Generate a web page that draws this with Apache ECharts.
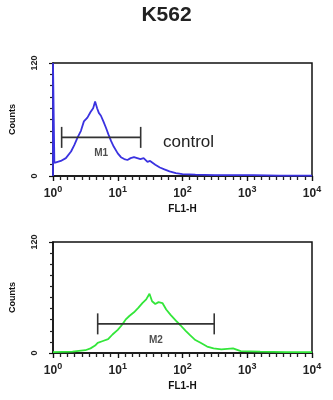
<!DOCTYPE html>
<html><head><meta charset="utf-8">
<script src="https://cdn.jsdelivr.net/npm/echarts@6/dist/echarts.min.js"></script>
<style>html,body{margin:0;padding:0;background:#fff}#c{width:333px;height:400px}</style>
</head><body><div id="c"></div>
<script>
const chartTitle = 'K562';
const xAxisName = 'FL1-H';
const yAxisName = 'Counts';
const xTickBase = '10';
const xTickExponents = ['0', '1', '2', '3', '4'];
const yTickLabels = ['0', '120'];

// control histogram (blue)
const controlX = [1, 1, 1.05, 1.32, 1.58, 1.9, 2.14, 2.4, 2.7, 3.0, 3.4, 3.8, 4.17, 4.47, 4.8, 5.1, 5.5, 6.0, 6.6, 7.2, 7.9, 8.7, 10, 11.2, 12.6, 14.1, 15.8, 17.8, 20, 22.4, 25.1, 28.8, 31.6, 38, 44.7, 52.5, 63, 79, 100, 158, 316, 631, 1259, 3162, 10000];
const controlY = [0, 120, 14, 16, 19, 26, 33, 41, 48, 58, 62, 68, 72, 79, 72, 67, 64, 58, 51, 44, 37, 31, 24, 20, 18, 17, 19, 20, 19, 18, 19, 15, 16, 12, 9, 7, 5, 3, 2, 1.5, 1, 1, 1, 0.5, 0.5];

// sample histogram (green)
const sampleX = [1, 2, 3.16, 3.8, 4.47, 4.9, 5.9, 7.1, 8.3, 10, 11.5, 13.2, 15.1, 17.8, 20.9, 24, 27.5, 30.9, 33.9, 38, 42.7, 49, 56, 66, 79, 93, 112, 132, 158, 190, 240, 302, 398, 603, 794, 1585, 3981, 10000];
const sampleY = [1, 1.5, 3, 5, 8, 11, 13, 15, 20, 25, 30, 36, 40, 44, 49, 54, 58, 64, 56, 53, 55, 54, 47, 41, 35, 30, 24, 19, 14, 11, 7, 5, 4, 5, 2, 1.5, 1, 1];

// gates
const gateNames = ['M1', 'M2'];
const gateFrom = [1.36, 4.9];
const gateTo = [22.6, 309];
const gateLevel = [41, 31.5];
const controlLabel = 'control';

const FONT = 'Liberation Sans';
const chart = echarts.init(document.getElementById('c'), null, {renderer: 'canvas'});

const grids = [
  {left: 52, top: 63, width: 260, height: 113, show: true, borderColor: '#111', borderWidth: 1.5, backgroundColor: 'transparent'},
  {left: 52, top: 242, width: 260, height: 111, show: true, borderColor: '#111', borderWidth: 1.5, backgroundColor: 'transparent'}
];

function xAxisFor(i) {
  return {
    type: 'log', logBase: 10, min: 1, max: 10000, gridIndex: i,
    name: xAxisName, nameLocation: 'middle', nameGap: 28,
    nameTextStyle: {fontFamily: FONT, fontWeight: 'bold', fontSize: 10, color: '#111'},
    axisLine: {show: true, onZero: false, lineStyle: {color: '#111', width: 1.5}},
    axisTick: {show: false},
    splitLine: {show: false},
    axisLabel: {
      margin: 9,
      formatter: function (v) {
        const e = Math.round(Math.log10(v));
        return '{b|' + xTickBase + '}{s|' + xTickExponents[e] + '}';
      },
      rich: {
        b: {fontFamily: FONT, fontSize: 12, fontWeight: 'bold', color: '#222'},
        s: {fontFamily: FONT, fontSize: 9, fontWeight: 'bold', color: '#222', padding: [0, 0, 8, 0]}
      }
    }
  };
}
// decade-exponent axis overlay, only for the tick marks
function xMinorAxisFor(i) {
  return {
    type: 'value', min: 0, max: 4, interval: 1, gridIndex: i, position: 'bottom', offset: 0,
    axisLine: {show: false, onZero: false},
    axisTick: {show: true, inside: false, length: 5, lineStyle: {color: '#111', width: 1.4}},
    axisLabel: {show: false},
    splitLine: {show: false},
    minorTick: {show: true, splitNumber: 9, length: 4, lineStyle: {color: '#222', width: 1.3}}
  };
}
function yAxisFor(i) {
  return {
    type: 'value', min: 0, max: 120, interval: 120, gridIndex: i,
    name: yAxisName, nameLocation: 'middle', nameGap: 36,
    nameTextStyle: {fontFamily: FONT, fontWeight: 'bold', fontSize: 9, color: '#111'},
    axisLine: {show: true, lineStyle: {color: '#111', width: 1.5}},
    axisTick: {show: true, length: 4, lineStyle: {color: '#111', width: 1.2}},
    minorTick: {show: true, splitNumber: 10, length: 3, lineStyle: {color: '#222', width: 1.2}},
    splitLine: {show: false},
    axisLabel: {
      rotate: 90, margin: 14,
      fontFamily: FONT, fontSize: 9, fontWeight: 'bold', color: '#222',
      formatter: function (v) { return v === 0 ? yTickLabels[0] : yTickLabels[1]; }
    }
  };
}

function gateSeries(g, axisIdx) {
  return [{
    type: 'line', xAxisIndex: axisIdx, yAxisIndex: axisIdx,
    data: [[gateFrom[g], gateLevel[g]], [gateTo[g], gateLevel[g]]],
    symbol: 'rect', symbolSize: [1.6, 21], showSymbol: true,
    itemStyle: {color: '#333'},
    lineStyle: {color: '#333', width: 1.6}, z: 5, silent: true
  }, {
    type: 'scatter', xAxisIndex: axisIdx, yAxisIndex: axisIdx,
    data: [[Math.sqrt(gateFrom[g] * gateTo[g]), gateLevel[g]]],
    symbolSize: 0,
    label: {show: true, position: 'bottom', distance: 11, formatter: gateNames[g],
      fontFamily: FONT, fontSize: 10, fontWeight: 'bold', color: '#222'},
    silent: true
  }];
}

chart.setOption({
  animation: false,
  backgroundColor: '#fff',
  title: {text: chartTitle, left: 'center', top: 0,
    textStyle: {fontFamily: FONT, fontSize: 21, fontWeight: 'bold', color: '#222'}},
  grid: grids,
  xAxis: [xAxisFor(0), xAxisFor(1), xMinorAxisFor(0), xMinorAxisFor(1)],
  yAxis: [yAxisFor(0), yAxisFor(1)],
  graphic: [{type: 'text', left: 163, top: 134,
    style: {text: controlLabel, fontFamily: FONT, fontSize: 17, fill: '#222'}}],
  series: [
    {type: 'line', xAxisIndex: 0, yAxisIndex: 0, showSymbol: false,
      data: controlX.map((x, i) => [x, controlY[i]]),
      lineStyle: {color: '#3a32e0', width: 1.8}, itemStyle: {color: '#3a32e0'}, z: 3},
    {type: 'line', xAxisIndex: 1, yAxisIndex: 1, showSymbol: false,
      data: sampleX.map((x, i) => [x, sampleY[i]]),
      lineStyle: {color: '#33e63a', width: 1.8}, itemStyle: {color: '#33e63a'}, z: 3}
  ].concat(gateSeries(0, 0), gateSeries(1, 1))
});
</script></body></html>
